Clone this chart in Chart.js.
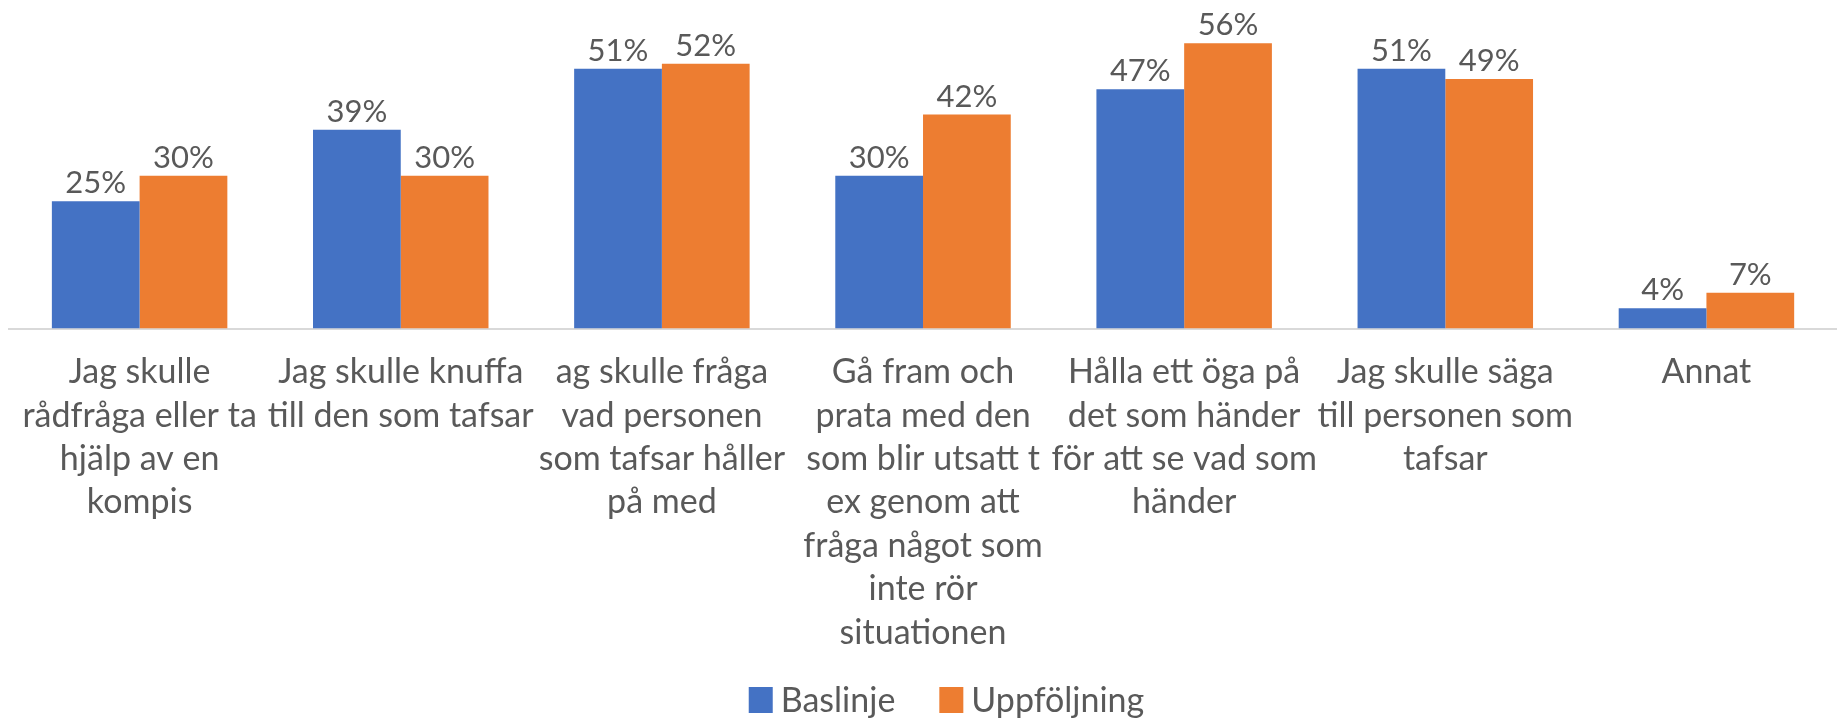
<!DOCTYPE html>
<html>
<head>
<meta charset="utf-8">
<script src="https://cdn.jsdelivr.net/npm/chart.js@4"></script>
<style>
  body { margin: 0; background: #fff; }
  #wrap { width: 1837px; height: 718px; }
</style>
</head>
<body>
<div id="wrap"><canvas id="grafico"></canvas></div>
<script>
// Kategorier (radbrytningar som i originalet)
const kategorier = [
  ['Jag skulle', 'rådfråga eller ta', 'hjälp av en', 'kompis'],
  ['Jag skulle knuffa', 'till den som tafsar'],
  ['ag skulle fråga', 'vad personen', 'som tafsar håller', 'på med'],
  ['Gå fram och', 'prata med den', 'som blir utsatt t', 'ex genom att', 'fråga något som', 'inte rör', 'situationen'],
  ['Hålla ett öga på', 'det som händer', 'för att se vad som', 'händer'],
  ['Jag skulle säga', 'till personen som', 'tafsar'],
  ['Annat']
];

const baslinje = [25, 39, 51, 30, 47, 51, 4];
const uppfoljning = [30, 30, 52, 42, 56, 49, 7];

const serieNamn = ['Baslinje', 'Uppföljning'];
const serieFarger = ['#4472C4', '#ED7D31'];

const textFarg = '#595959';
const typsnitt = 'Lato, "Open Sans", sans-serif';

// Procentetiketter ovanför staplarna
const etiketter = {
  id: 'etiketter',
  afterDatasetsDraw(chart) {
    const ctx = chart.ctx;
    ctx.save();
    ctx.font = '31px ' + typsnitt;
    ctx.fillStyle = textFarg;
    ctx.textAlign = 'center';
    ctx.textBaseline = 'alphabetic';
    chart.data.datasets.forEach((ds, i) => {
      chart.getDatasetMeta(i).data.forEach((bar, j) => {
        ctx.fillText(ds.data[j] + '%', bar.x, bar.y - 8);
      });
    });
    ctx.restore();
  }
};

// Egen förklaring längst ner
const forklaring = {
  id: 'forklaring',
  afterDraw(chart) {
    const ctx = chart.ctx;
    ctx.save();
    ctx.font = '34px ' + typsnitt;
    ctx.textBaseline = 'middle';
    ctx.textAlign = 'left';
    const ruta = 24, glapp = 8, mellan = 44;
    const bredder = serieNamn.map(n => ruta + glapp + ctx.measureText(n).width);
    const total = bredder.reduce((a, b) => a + b, 0) + mellan;
    let x = chart.width / 2 + 28 - total / 2;
    const y = 700;
    serieNamn.forEach((n, i) => {
      ctx.fillStyle = serieFarger[i];
      ctx.fillRect(x, y - 13, ruta, 26);
      ctx.fillStyle = textFarg;
      ctx.fillText(n, x + ruta + glapp, y + 1);
      x += bredder[i] + mellan;
    });
    ctx.restore();
  }
};

new Chart(document.getElementById('grafico'), {
  type: 'bar',
  data: {
    labels: kategorier,
    datasets: [
      { label: serieNamn[0], data: baslinje, backgroundColor: serieFarger[0] },
      { label: serieNamn[1], data: uppfoljning, backgroundColor: serieFarger[1] }
    ]
  },
  options: {
    responsive: true,
    maintainAspectRatio: false,
    animation: false,
    datasets: { bar: { categoryPercentage: 0.672, barPercentage: 1 } },
    layout: { padding: { top: 0, left: 6, right: 0, bottom: 61 } },
    plugins: {
      legend: { display: false },
      tooltip: { enabled: false }
    },
    scales: {
      x: {
        grid: { display: false, drawTicks: false },
        border: { display: true, color: '#D9D9D9', width: 2 },
        ticks: {
          color: textFarg,
          font: { family: typsnitt, size: 34, lineHeight: 1.277 },
          padding: 22,
          maxRotation: 0,
          autoSkip: false
        }
      },
      y: {
        display: false,
        min: 0,
        max: 64.5
      }
    }
  },
  plugins: [etiketter, forklaring]
});
</script>
</body>
</html>
